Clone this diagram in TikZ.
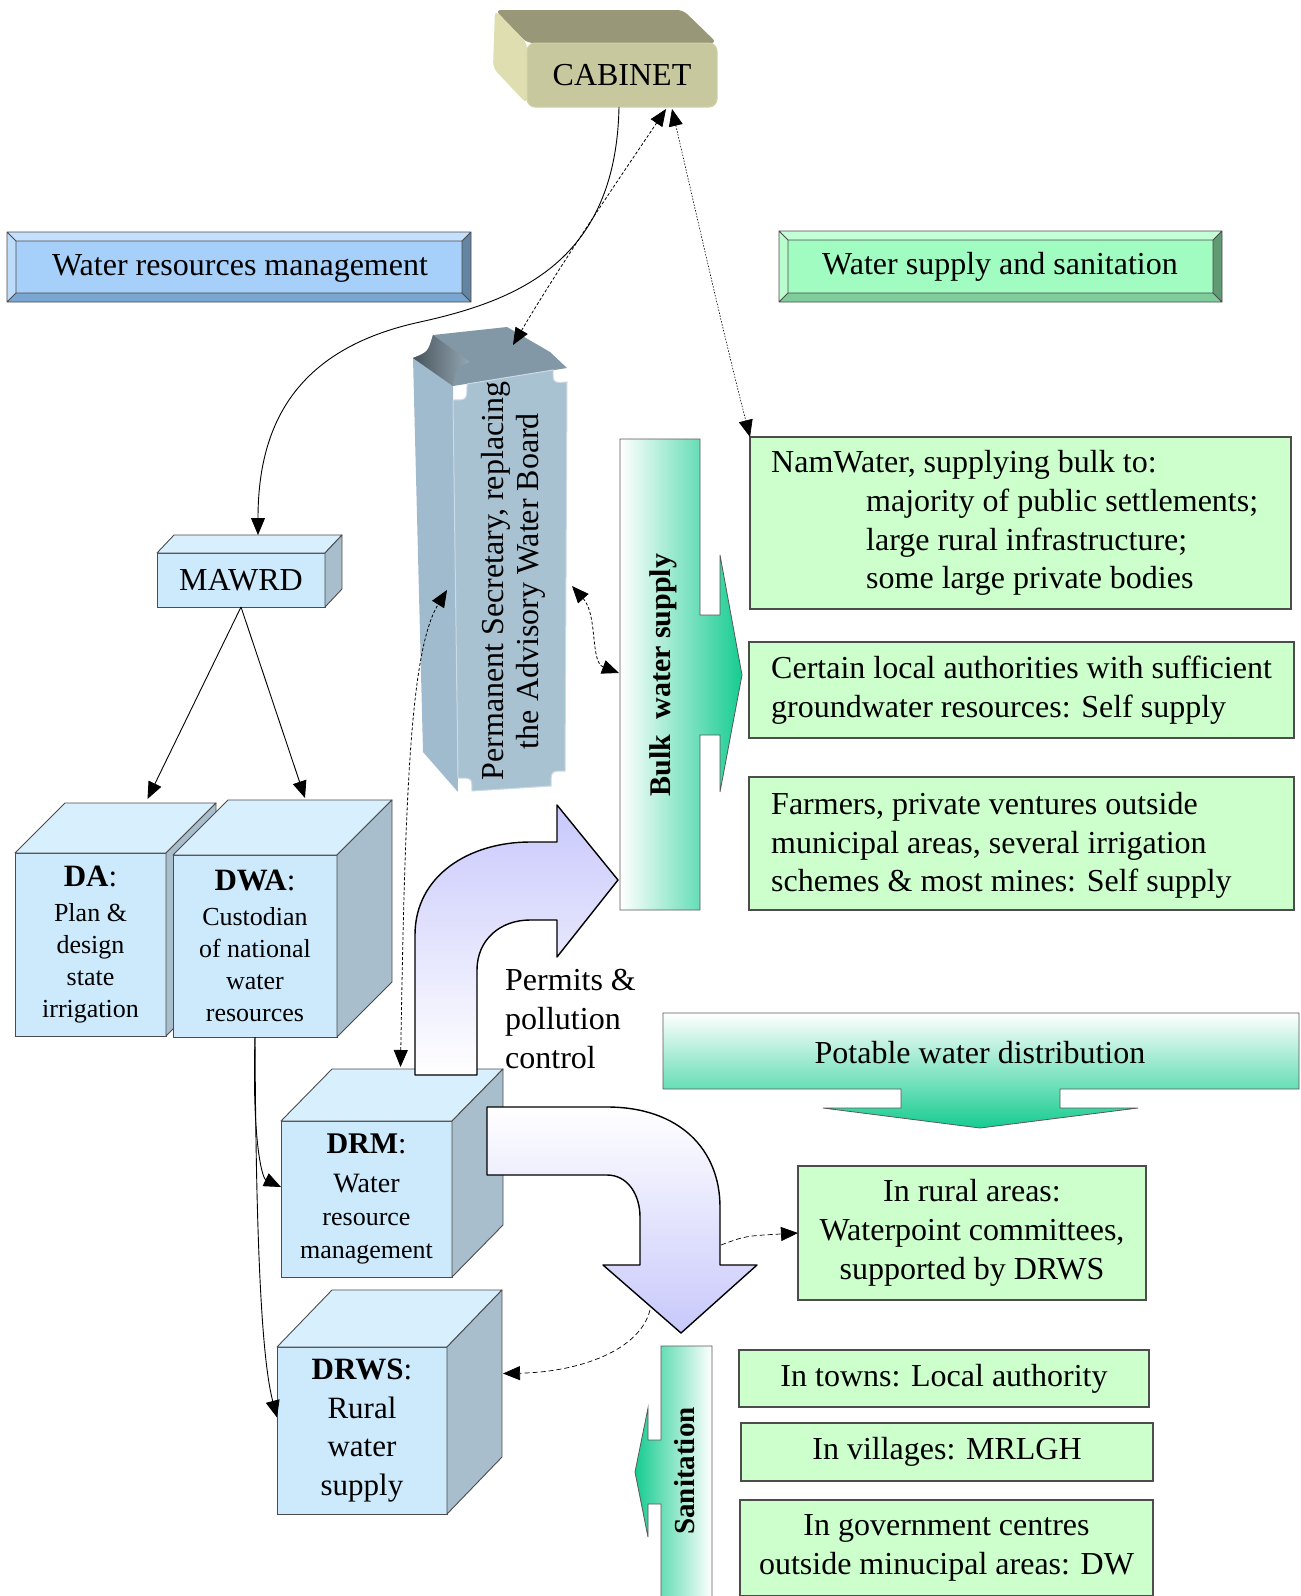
\documentclass[tikz,border=0pt]{standalone}
\usepackage{fontspec}
\setmainfont{Liberation Serif}
\usetikzlibrary{arrows.meta,calc}
\definecolor{cabfront}{RGB}{200,200,158}
\definecolor{cabtop}{RGB}{152,152,120}
\definecolor{cabside}{RGB}{222,222,176}
\definecolor{wrmin}{RGB}{166,208,250}
\definecolor{wrmtop}{RGB}{196,224,252}
\definecolor{wrmleft}{RGB}{188,220,250}
\definecolor{wrmright}{RGB}{100,132,162}
\definecolor{wrmbot}{RGB}{122,166,210}
\definecolor{wssin}{RGB}{160,252,192}
\definecolor{wsstop}{RGB}{196,255,215}
\definecolor{wssleft}{RGB}{186,252,206}
\definecolor{wssright}{RGB}{96,155,115}
\definecolor{wssbot}{RGB}{126,205,155}
\definecolor{cubefront}{RGB}{204,234,252}
\definecolor{cubetop}{RGB}{216,239,253}
\definecolor{cubeside}{RGB}{168,190,205}
\definecolor{psfront}{RGB}{168,194,210}
\definecolor{psside}{RGB}{160,187,205}
\definecolor{pstop}{RGB}{130,152,166}
\definecolor{boxgreen}{RGB}{204,255,204}
\definecolor{bulkgreen}{RGB}{22,204,144}
\definecolor{lav}{RGB}{200,200,252}
\tikzset{
  big/.style={font=\fontsize{32pt}{38.7pt}\selectfont},
  gbox/.style={draw=black!70, line width=1.2pt, fill=boxgreen, outer sep=0pt, inner sep=0pt},
  cubeface/.style={draw=black!70, line width=0.9pt, fill=cubefront, outer sep=0pt, inner sep=0pt, align=center},
  conn/.style={line width=0.9pt, -{Triangle[length=17pt,width=14pt]}},
  biconn/.style={line width=0.8pt, {Triangle[length=17pt,width=14pt]}-{Triangle[length=17pt,width=14pt]}},
  fdash/.style={dash pattern=on 3pt off 2pt},
  bigarrow/.style={draw=black, line width=1.4pt, line join=round},
}
\newcommand\drawcube[3]{%
  \path[fill=cubetop, draw=black!70, line width=0.9pt, line join=round] (#1.north west) -- ++(#2,-#3) -- ([shift={(#2,-#3)}]#1.north east) -- (#1.north east) -- cycle;
  \path[fill=cubeside, draw=black!70, line width=0.9pt, line join=round] (#1.north east) -- ([shift={(#2,-#3)}]#1.north east) -- ([shift={(#2,-#3)}]#1.south east) -- (#1.south east) -- cycle;
}
\newcommand\bevelbox[6]{%
  \fill[#6top] (#1,#2) -- (#3,#2) -- ({#3-#5},{#2+#5}) -- ({#1+#5},{#2+#5}) -- cycle;
  \fill[#6left] (#1,#2) -- ({#1+#5},{#2+#5}) -- ({#1+#5},{#4-#5}) -- (#1,#4) -- cycle;
  \fill[#6right] (#3,#2) -- (#3,#4) -- ({#3-#5},{#4-#5}) -- ({#3-#5},{#2+#5}) -- cycle;
  \fill[#6bot] (#1,#4) -- (#3,#4) -- ({#3-#5},{#4-#5}) -- ({#1+#5},{#4-#5}) -- cycle;
  \fill[#6in] ({#1+#5},{#2+#5}) rectangle ({#3-#5},{#4-#5});
  \draw[black!70, line width=0.8pt] (#1,#2) rectangle (#3,#4) ({#1+#5},{#2+#5}) rectangle ({#3-#5},{#4-#5})
     (#1,#2) -- ({#1+#5},{#2+#5}) (#3,#2) -- ({#3-#5},{#2+#5}) (#1,#4) -- ({#1+#5},{#4-#5}) (#3,#4) -- ({#3-#5},{#4-#5});
}
\begin{document}
\begin{tikzpicture}[x=1pt,y=-1pt]
\useasboundingbox (0,0) rectangle (1301,1596);
\fill[white] (0,0) rectangle (1301,1596);

% ---------- CABINET
\path[fill=cabtop, rounded corners=6pt] (495,10) -- (683,10) -- (717,43) -- (527,43) -- cycle;
\path[fill=cabside, rounded corners=6pt] (495,10) -- (527,43) -- (527,104) -- (493,68) -- cycle;
\node[fill=cabfront, draw=cabfront!85!white, line width=1pt, rounded corners=8pt, minimum width=190pt, minimum height=64pt, outer sep=0pt, big] (cab) at (622,75) {CABINET};

% ---------- headings
\bevelbox{7}{232}{471}{302}{9}{wrm}
\node[big] (wrm) at (240,268) {Water resources management};
\bevelbox{779}{231}{1222}{302}{9}{wss}
\node[big] (wss) at (1000,267) {Water supply and sanitation};

% ---------- Permanent Secretary column
\path[fill=psside] (413,358) -- (453,386) -- (458,792) -- (423,752) -- cycle;
\path[fill=pstop] (413,358) .. controls (428,352) .. (433,335) -- (507,327) -- (550,352) -- (567,368) -- (453,386) -- cycle;
\shade[left color=pstop!55!black, right color=pstop!85!white] (413,358) .. controls (428,352) .. (433,335) -- (470,362) .. controls (456,368) .. (453,386) -- cycle;
\path[fill=psfront, draw=psfront!60!white, line width=1pt] (467,384) -- (553,370) .. controls (553,383) .. (567,382) -- (565,771) .. controls (551,771) .. (551,786) -- (472,791) .. controls (472,778) .. (458,778) -- (453,400) .. controls (467,400) .. (467,384) -- cycle;
\node[rotate=90, align=center, font=\fontsize{32pt}{35pt}\selectfont] (ps) at (513,581) {Permanent Secretary, replacing\\the Advisory Water Board};
\coordinate (psTop) at (513,345);
\coordinate (psL) at (447,590);
\coordinate (psR) at (572,586);

% ---------- Bulk water supply
\shadedraw[left color=white, right color=bulkgreen, draw=black!65, line width=0.8pt]
  (620,439) -- (700,439) -- (700,615) -- (720,615) -- (720,555) -- (742,675) -- (720,792) -- (720,735) -- (700,735) -- (700,910) -- (620,910) -- cycle;
\node[rotate=90, font=\fontsize{30pt}{30pt}\selectfont\bfseries] (bulk) at (663,675) {Bulk\hspace{0.5em}water supply};
\coordinate (bulkL) at (619,673);

% ---------- green boxes (bulk)
\node[gbox, minimum width=541pt, minimum height=172pt] (nam) at (1020.5,523) {};
\node[big, align=left, anchor=west, inner sep=0pt] (namT) at ([shift={(21,0)}]nam.west) {NamWater, supplying bulk to:\\\hspace*{95pt}majority of public settlements;\\\hspace*{95pt}large rural infrastructure;\\\hspace*{95pt}some large private bodies};
\node[gbox, minimum width=545pt, minimum height=96pt] (cert) at (1021.5,690) {};
\node[big, align=left, anchor=west, inner sep=0pt] (certT) at ([shift={(22,0)}]cert.west) {Certain local authorities with sufficient\\groundwater resources: Self supply};
\node[gbox, minimum width=545pt, minimum height=133pt] (farm) at (1021.5,843.5) {};
\node[big, align=left, anchor=west, inner sep=0pt] (farmT) at ([shift={(22,2)}]farm.west) {Farmers, private ventures outside\\municipal areas, several irrigation\\schemes \& most mines: Self supply};

% ---------- MAWRD
\node[cubeface, minimum width=168pt, minimum height=54pt, big] (mawrd) at (241,580) {MAWRD};
\drawcube{mawrd}{17}{18}

% ---------- DA and DWA
\node[cubeface, minimum width=151pt, minimum height=183pt, font=\fontsize{26pt}{32pt}\selectfont] (da) at (90.5,944.5)
  {{\fontsize{31pt}{31pt}\selectfont\textbf{DA}:}\\[3pt]Plan \&\\design\\state\\irrigation};
\drawcube{da}{50}{50}
\node[cubeface, minimum width=164pt, minimum height=182pt, font=\fontsize{26pt}{32pt}\selectfont] (dwa) at (255,946)
  {{\fontsize{31pt}{31pt}\selectfont\textbf{DWA}:}\\[3pt]Custodian\\of national\\water\\resources};
\drawcube{dwa}{55}{55}

% ---------- DRM
\node[cubeface, minimum width=171pt, minimum height=156pt, font=\fontsize{26pt}{33pt}\selectfont] (drm) at (366.5,1199)
  {{\fontsize{30pt}{30pt}\selectfont\textbf{DRM}:}\\[6pt]{\fontsize{28pt}{28pt}\selectfont Water}\\resource\\management};
\drawcube{drm}{51}{52}

% ---------- DRWS
\node[cubeface, minimum width=170pt, minimum height=167pt, font=\fontsize{31pt}{38.5pt}\selectfont] (drws) at (362,1430.5)
  {{\bfseries DRWS}:\\Rural\\water\\supply};
\drawcube{drws}{55}{57}

% ---------- Permits arrow
\shadedraw[top color=lav, bottom color=white, bigarrow]
  (415,1075) -- (415,935) .. controls (415,875) and (470,842) .. (530,842) -- (557,842) -- (557,805) -- (618,880) -- (557,957) -- (557,920) -- (530,920) .. controls (500,920) and (477,940) .. (477,970) -- (477,1075) -- cycle;
\node[big, align=left, anchor=west, inner sep=0pt] (perm) at (505,1019) {Permits \&\\pollution\\control};

% ---------- DRM -> sanitation arrow
\shadedraw[top color=white, bottom color=lav, bigarrow]
  (487,1107) -- (607,1107) .. controls (680,1107) and (720,1150) .. (720,1207) -- (720,1265) -- (757,1265) -- (681,1333) -- (603,1265) -- (640,1265) -- (640,1217) .. controls (640,1195) and (628,1175) .. (607,1175) -- (487,1175) -- cycle;
\coordinate (arrR) at (721,1245);
\coordinate (arrL) at (650,1310);

% ---------- Potable water distribution
\shadedraw[top color=white, bottom color=bulkgreen, draw=black!65, line width=0.8pt]
  (663,1013) -- (1299,1013) -- (1299,1089) -- (1060,1089) -- (1060,1108) -- (1138,1108) -- (980,1128) -- (823,1108) -- (901,1108) -- (901,1089) -- (663,1089) -- cycle;
\node[big] (pot) at (980,1053) {Potable water distribution};

% ---------- rural box
\node[gbox, big, align=center, minimum width=348pt, minimum height=134pt] (rural) at (972,1233) {In rural areas:\\Waterpoint committees,\\supported by DRWS};

% ---------- Sanitation
\shadedraw[left color=bulkgreen, right color=white, draw=black!65, line width=0.8pt]
  (661,1346) -- (712,1346) -- (712,1600) -- (661,1600) -- (661,1504) -- (648,1504) -- (648,1537) -- (635,1472) -- (648,1408) -- (648,1440) -- (661,1440) -- cycle;
\node[rotate=90, font=\fontsize{29pt}{29pt}\selectfont\bfseries] (san) at (685,1471) {Sanitation};

\node[gbox, big, minimum width=410pt, minimum height=57pt] (towns) at (944,1378.5) {In towns: Local authority};
\node[gbox, big, minimum width=412pt, minimum height=58pt] (vill) at (947,1452) {In villages: MRLGH};
\node[gbox, big, align=center, minimum width=413pt, minimum height=96pt] (gov) at (946.5,1548) {In government centres\\outside minucipal areas: DW};

% ---------- connectors
\draw[conn] ([shift={(-3,0)}]cab.south) .. controls (616,260) and (520,300) .. (420,322) .. controls (300,348) and (258,420) .. ([shift={(17,-18)}]mawrd.north);
\draw[biconn, fdash] (psTop) .. controls (560,265) and (625,170) .. ([shift={(44,2)}]cab.south);
\draw[biconn, line width=0.6pt, dash pattern=on 1.5pt off 1.5pt] ([shift={(50,2)}]cab.south) .. controls (700,230) and (725,340) .. (nam.north west);
\draw[conn] (mawrd.south) -- ([shift={(57,-54)}]da.north);
\draw[conn] (mawrd.south) -- ([shift={(50,-57)}]dwa.north);
\draw[conn] (dwa.south) .. controls (252,1140) and (262,1178) .. ([shift={(0,-12)}]drm.west);
\draw[conn] (dwa.south) .. controls (256,1250) and (262,1360) .. ([shift={(0,-13)}]drws.west);
\draw[biconn, fdash] ([shift={(34,-54)}]drm.north) .. controls (405,800) and (410,650) .. (psL);
\draw[biconn, fdash] (psR) .. controls (598,615) and (590,662) .. (bulkL);
\draw[conn, line width=0.7pt, dash pattern=on 5pt off 3pt] (arrR) .. controls (745,1236) .. (rural.west);
\draw[conn, line width=0.7pt, dash pattern=on 5pt off 3pt] (arrL) .. controls (640,1350) and (580,1372) .. ([shift={(56,-57)}]drws.east);
\end{tikzpicture}
\end{document}
